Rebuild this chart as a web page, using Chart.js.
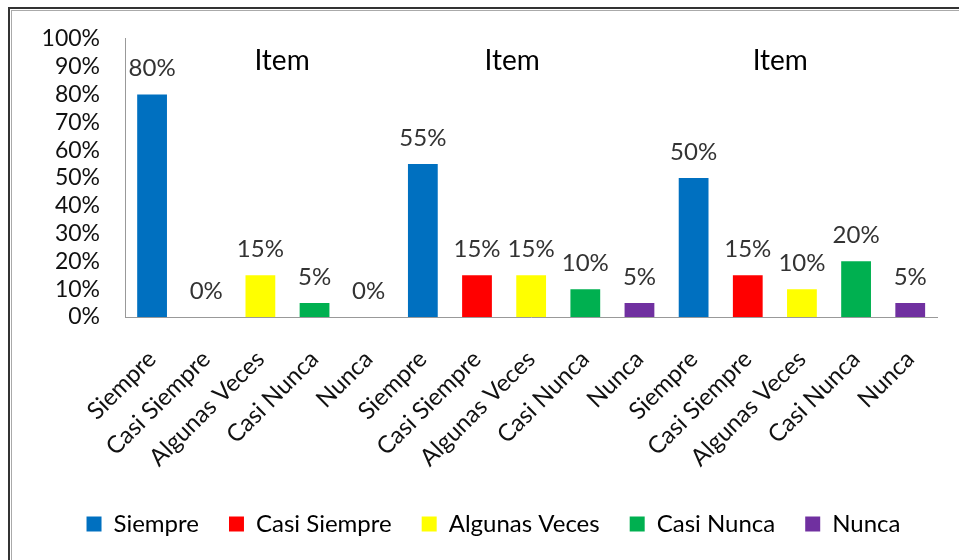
<!DOCTYPE html>
<html>
<head>
<meta charset="utf-8">
<script src="https://cdn.jsdelivr.net/npm/chart.js@4.4.0/dist/chart.umd.min.js"></script>
<style>
  html, body { margin: 0; padding: 0; background: #fff; }
  #wrap { position: relative; width: 959px; height: 560px; overflow: hidden; }
  #frameOuter { position: absolute; left: 8px; top: 7px; width: 1100px; height: 700px;
    border-left: 2px solid #333; border-top: 2px solid #333; }
  #frameInner { position: absolute; left: 11px; top: 10px; width: 1100px; height: 700px;
    border-left: 1px solid #aaa; border-top: 1px solid #aaa; }
  #chart { position: absolute; left: 0; top: 0; }
</style>
</head>
<body>
<div id="wrap">
  <div id="frameOuter"></div>
  <div id="frameInner"></div>
  <canvas id="chart" width="959" height="560"></canvas>
</div>
<script>
// Chart data
const categories = [
  "Siempre", "Casi Siempre", "Algunas Veces", "Casi Nunca", "Nunca",
  "Siempre", "Casi Siempre", "Algunas Veces", "Casi Nunca", "Nunca",
  "Siempre", "Casi Siempre", "Algunas Veces", "Casi Nunca", "Nunca"
];
const values = [80, 0, 15, 5, 0, 55, 15, 15, 10, 5, 50, 15, 10, 20, 5];
const groupTitles = ["Item", "Item", "Item"];
const seriesNames = ["Siempre", "Casi Siempre", "Algunas Veces", "Casi Nunca", "Nunca"];
const seriesColors = ["#0070C0", "#FF0000", "#FFFF00", "#00B050", "#7030A0"];

const FONT = "Lato, 'Open Sans', sans-serif";
// where the "Item" titles sit, in category units
const titleIndex = [2.4, 6.65, 11.6];

// Draw value labels above bars and the group titles
const labelPlugin = {
  id: "labelPlugin",
  afterDatasetsDraw(chart) {
    const ctx = chart.ctx;
    const meta = chart.getDatasetMeta(0);
    ctx.save();
    ctx.font = "24px " + FONT;
    ctx.fillStyle = "#333";
    ctx.textAlign = "center";
    ctx.textBaseline = "middle";
    meta.data.forEach((bar, i) => {
      ctx.fillText(values[i] + "%", bar.x, bar.y - 26);
    });

    ctx.font = "28px " + FONT;
    ctx.fillStyle = "#000";
    const xScale = chart.scales.x;
    groupTitles.forEach((t, g) => {
      ctx.fillText(t, xScale.getPixelForValue(titleIndex[g]), 61);
    });
    ctx.restore();
  }
};

const ctx = document.getElementById("chart");
new Chart(ctx, {
  type: "bar",
  data: {
    labels: categories,
    datasets: [{
      data: values,
      backgroundColor: values.map((v, i) => seriesColors[i % seriesColors.length]),
      borderWidth: 0,
      barPercentage: 0.55,
      categoryPercentage: 1
    }]
  },
  options: {
    responsive: false,
    animation: false,
    layout: { padding: { top: 38, right: 12, left: 40, bottom: 14 } },
    plugins: {
      legend: {
        position: "bottom",
        onClick: null,
        labels: {
          font: { family: FONT, size: 24 },
          color: "#222",
          boxWidth: 15,
          boxHeight: 15,
          padding: 30,
          generateLabels: () => seriesNames.map((n, i) => ({
            text: n,
            fillStyle: seriesColors[i],
            strokeStyle: seriesColors[i],
            lineWidth: 0,
            hidden: false,
            index: i
          }))
        }
      },
      tooltip: { enabled: false }
    },
    scales: {
      x: {
        grid: { display: false, drawTicks: false },
        border: { display: true, color: "#999", width: 1 },
        ticks: {
          font: { family: FONT, size: 24 },
          color: "#111",
          minRotation: 45,
          maxRotation: 45,
          autoSkip: false,
          padding: 28
        },
        afterFit(scale) { scale.height = 165; }
      },
      y: {
        min: 0,
        max: 100,
        grid: { display: false, drawTicks: false },
        border: { display: true, color: "#999", width: 1 },
        ticks: {
          stepSize: 10,
          autoSkip: false,
          font: { family: FONT, size: 23 },
          color: "#111",
          padding: 25,
          callback: v => v + "%"
        },
        afterFit(scale) { scale.width = 85; }
      }
    }
  },
  plugins: [labelPlugin]
});
</script>
</body>
</html>
